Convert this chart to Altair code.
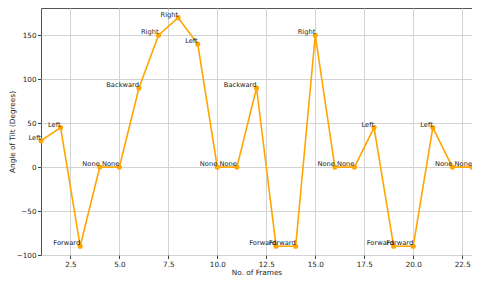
import altair as alt
import pandas as pd

frames = list(range(1, 24))
angles = [30, 45, -90, 0, 0, 90, 150, 170, 140, 0, 0, 90, -90, -90, 150, 0, 0, 45, -90, -90, 45, 0, 0]
labels = ["Left", "Left", "Forward", "None", "None", "Backward", "Right", "Right", "Left",
          "None", "None", "Backward", "Forward", "Forward", "Right", "None", "None", "Left",
          "Forward", "Forward", "Left", "None", "None"]
x_ticks = [2.5, 5.0, 7.5, 10.0, 12.5, 15.0, 17.5, 20.0, 22.5]
y_ticks = [-100, -50, 0, 50, 100, 150]

df = pd.DataFrame({"frame": frames, "angle": angles, "label": labels})

FONT = "DejaVu Sans"
ORANGE = "#FFA500"

x = alt.X("frame:Q", scale=alt.Scale(domain=[1, 23], nice=False, zero=False),
          axis=alt.Axis(title="No. of Frames", values=x_ticks, format=".1f",
                        grid=True, titlePadding=1.5))
y = alt.Y("angle:Q", scale=alt.Scale(domain=[-100, 181], nice=False, zero=False),
          axis=alt.Axis(title="Angle of Tilt (Degrees)", values=y_ticks, format="d",
                        grid=True, titleX=-33, titleBaseline="top"))

base = alt.Chart(df).encode(x=x, y=y)

line = base.mark_line(color=ORANGE, strokeWidth=1.6)
pts = base.mark_point(filled=True, color=ORANGE, size=26, opacity=1)
txt = base.mark_text(align="right", baseline="bottom", font=FONT, fontSize=6.7,
                     color="#222222", dx=0, dy=0).encode(text="label:N")

chart = alt.layer(line, pts, txt).properties(
    width=431, height=247,
    autosize=alt.AutoSizeParams(type="none"),
    padding={"left": 33, "top": 0, "right": 0, "bottom": 21},
).configure_view(
    stroke="#555555", strokeWidth=1
).configure_axis(
    labelFont=FONT, titleFont=FONT, labelFontSize=7.2, titleFontSize=7.3,
    labelColor="#222222", titleColor="#222222", titleFontWeight="normal",
    domain=False, tickColor="#444444", tickSize=3.5, labelPadding=1.5,
    gridColor="#d3d3d3", gridWidth=1, labelFlush=False,
)

chart.save("out.html", embed_options={"renderer": "svg", "actions": False})
